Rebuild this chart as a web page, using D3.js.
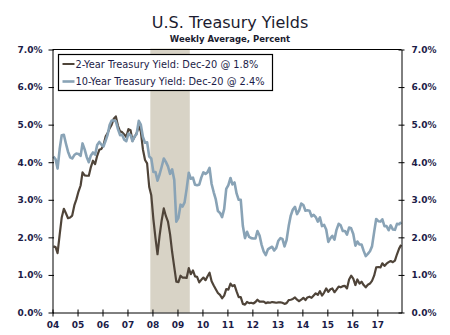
<!DOCTYPE html>
<html>
<head>
<meta charset="utf-8">
<script src="https://cdn.jsdelivr.net/npm/d3@7"></script>
<style>
  body { margin: 0; background: white; }
  text { font-family: "DejaVu Sans", Verdana, sans-serif; }
</style>
</head>
<body>
<div id="chart"></div>
<script>
// Monthly averages, Jan 2004 .. Dec 2017
let twoYear = [
  1.76, 1.74, 1.58, 2.07, 2.53, 2.76, 2.64, 2.51, 2.53, 2.58, 2.85, 3.01,
  3.22, 3.38, 3.73, 3.65, 3.64, 3.64, 3.87, 4.04, 3.95, 4.17, 4.33, 4.35,
  4.45, 4.68, 4.77, 4.90, 5.00, 5.16, 5.22, 4.97, 4.82, 4.80, 4.74, 4.67,
  4.88, 4.85, 4.57, 4.67, 4.77, 4.96, 4.82, 4.34, 4.06, 3.97, 3.34, 3.12,
  2.48, 1.97, 1.55, 2.05, 2.45, 2.77, 2.57, 2.42, 2.08, 1.61, 1.21, 0.82,
  0.81, 0.98, 0.93, 0.93, 0.92, 1.18, 1.02, 1.12, 0.96, 0.95, 0.80, 0.87,
  0.93, 0.86, 0.96, 1.06, 0.83, 0.72, 0.62, 0.52, 0.47, 0.38, 0.45, 0.62,
  0.61, 0.77, 0.70, 0.73, 0.56, 0.41, 0.41, 0.23, 0.21, 0.28, 0.25, 0.26,
  0.24, 0.28, 0.34, 0.29, 0.29, 0.29, 0.25, 0.27, 0.26, 0.28, 0.27, 0.26,
  0.27, 0.27, 0.26, 0.23, 0.25, 0.33, 0.34, 0.36, 0.40, 0.34, 0.30, 0.34,
  0.39, 0.33, 0.40, 0.42, 0.39, 0.45, 0.51, 0.47, 0.57, 0.45, 0.53, 0.64,
  0.55, 0.62, 0.64, 0.54, 0.61, 0.69, 0.67, 0.70, 0.71, 0.64, 0.88, 0.98,
  0.90, 0.73, 0.88, 0.77, 0.82, 0.73, 0.67, 0.74, 0.77, 0.84, 0.98, 1.20,
  1.21, 1.20, 1.31, 1.24, 1.30, 1.34, 1.37, 1.34, 1.38, 1.55, 1.70, 1.80
];
let tenYear = [
  4.15, 4.08, 3.83, 4.35, 4.72, 4.73, 4.50, 4.28, 4.13, 4.10, 4.19, 4.23,
  4.22, 4.17, 4.50, 4.34, 4.14, 4.00, 4.18, 4.26, 4.20, 4.46, 4.54, 4.47,
  4.42, 4.57, 4.72, 4.99, 5.11, 5.11, 5.09, 4.88, 4.72, 4.73, 4.60, 4.56,
  4.76, 4.72, 4.56, 4.69, 4.75, 5.10, 5.00, 4.67, 4.52, 4.53, 4.15, 4.10,
  3.74, 3.74, 3.51, 3.68, 3.88, 4.10, 4.01, 3.89, 3.69, 3.81, 3.53, 2.42,
  2.52, 2.87, 2.82, 2.93, 3.29, 3.72, 3.56, 3.59, 3.40, 3.39, 3.40, 3.59,
  3.73, 3.69, 3.73, 3.85, 3.42, 3.20, 3.01, 2.70, 2.65, 2.54, 2.76, 3.29,
  3.39, 3.58, 3.41, 3.46, 3.17, 3.00, 3.00, 2.30, 1.98, 2.15, 2.01, 1.98,
  1.97, 1.97, 2.17, 2.05, 1.80, 1.62, 1.53, 1.68, 1.72, 1.75, 1.65, 1.72,
  1.91, 1.98, 1.96, 1.76, 1.93, 2.30, 2.58, 2.74, 2.81, 2.62, 2.72, 2.90,
  2.86, 2.71, 2.72, 2.71, 2.56, 2.60, 2.54, 2.42, 2.53, 2.30, 2.33, 2.21,
  1.88, 1.98, 2.04, 1.94, 2.20, 2.36, 2.32, 2.17, 2.17, 2.07, 2.26, 2.24,
  2.09, 1.78, 1.89, 1.81, 1.81, 1.64, 1.50, 1.56, 1.63, 1.76, 2.14, 2.49,
  2.43, 2.42, 2.48, 2.30, 2.30, 2.19, 2.32, 2.21, 2.20, 2.36, 2.35, 2.40
];
let yTicks = [0, 1, 2, 3, 4, 5, 6, 7];
let yearTicks = ["04", "05", "06", "07", "08", "09", "10", "11", "12", "13", "14", "15", "16", "17"];
let recession = ["2007-12-01", "2009-06-30"];
let legendLabels = [
  "2-Year Treasury Yield: Dec-20 @ 1.8%",
  "10-Year Treasury Yield: Dec-20 @ 2.4%"
];

var margin = { top: 49.5, right: 48.5, bottom: 22.5, left: 52.5 };
let width = 450 - margin.left - margin.right;
let height = 335 - margin.top - margin.bottom;
let tickColor = "#1c1c48";
let colors = ["#4f4439", "#89a3b6"];

var svg = d3
  .select("#chart")
  .append("svg")
  .attr("width", 450)
  .attr("height", 335)
  .style("background-color", "white");

let months = d3.timeMonth.range(new Date(2004, 0, 1), new Date(2018, 0, 1)).map((d) => new Date(d.getFullYear(), d.getMonth(), 15));
let series = [twoYear, tenYear].map((vals) => vals.map((v, i) => ({ date: months[i], value: v })));

let x = d3.scaleTime().domain([new Date(2004, 0, 1), new Date(2017, 11, 20)]).range([0, width]);
let y = d3.scaleLinear().domain([0, 7]).range([height, 0]);

let g = svg.append("g").attr("transform", "translate(" + margin.left + "," + margin.top + ")");

// Recession shading
let parse = d3.timeParse("%Y-%m-%d");
g.append("rect")
  .attr("x", x(parse(recession[0])))
  .attr("y", -1)
  .attr("width", x(parse(recession[1])) - x(parse(recession[0])))
  .attr("height", height + 1)
  .attr("fill", "#d8d3c6");

// Lines
let line = d3.line().x((d) => x(d.date)).y((d) => y(d.value));
g.append("path").datum(series[0]).attr("d", line)
  .attr("fill", "none").attr("stroke", colors[0]).attr("stroke-width", 2.2).attr("stroke-linejoin", "round");
g.append("path").datum(series[1]).attr("d", line)
  .attr("fill", "none").attr("stroke", colors[1]).attr("stroke-width", 2.6).attr("stroke-linejoin", "round");

// Top border
g.append("line").attr("x1", 0).attr("x2", width).attr("y1", 0).attr("y2", 0).attr("stroke", "black");

let fmt = (d) => d.toFixed(1) + "%";
let yearDates = yearTicks.map((t) => new Date(2000 + +t, 0, 1));

// Left axis
let left = g.append("g").call(d3.axisLeft(y).tickValues(yTicks).tickFormat(fmt).tickSizeInner(4).tickSizeOuter(0).tickPadding(6));
left.selectAll(".tick line").attr("x2", -4).attr("x1", 1.5);
// Right axis
let right = g.append("g").attr("transform", "translate(" + width + ",0)")
  .call(d3.axisRight(y).tickValues(yTicks).tickFormat(fmt).tickSizeInner(3).tickSizeOuter(0).tickPadding(7));
right.selectAll(".tick line").attr("x1", -3).attr("x2", 3);
// Bottom axis
let bottom = g.append("g").attr("transform", "translate(0," + height + ")")
  .call(d3.axisBottom(x).tickValues(yearDates).tickFormat((d, i) => yearTicks[i]).tickSizeInner(4).tickSizeOuter(0).tickPadding(5));
bottom.selectAll(".tick line").attr("y1", -3).attr("y2", 4);

[left, right, bottom].forEach((a) => {
  a.select(".domain").attr("stroke", "black");
  a.selectAll(".tick line").attr("stroke", "black");
  a.selectAll("text").attr("fill", tickColor).style("font-size", "9px").style("font-weight", "bold")
    .style("font-family", "'DejaVu Sans', Verdana, sans-serif");
});

// Legend
let legend = g.append("g").attr("transform", "translate(6,5)");
legend.append("rect").attr("width", 214).attr("height", 36)
  .attr("fill", "white").attr("stroke", "black").attr("stroke-width", 1.2);
legendLabels.forEach((lab, i) => {
  let ly = 9.5 + i * 17.5;
  legend.append("line").attr("x1", 4).attr("x2", 16).attr("y1", ly).attr("y2", ly)
    .attr("stroke", colors[i]).attr("stroke-width", i == 0 ? 2 : 2.6);
  legend.append("text").attr("x", 17).attr("y", ly + 3.5).text(lab)
    .attr("fill", tickColor).style("font-size", "9.8px");
});

// Titles
svg.append("text").attr("x", 230).attr("y", 28).attr("text-anchor", "middle")
  .text("U.S. Treasury Yields").attr("fill", "#1c1c30").style("font-size", "16px");
svg.append("text").attr("x", 230).attr("y", 41.5).attr("text-anchor", "middle")
  .text("Weekly Average, Percent").attr("fill", "#1c1c30").style("font-size", "8.5px").style("font-weight", "bold");
</script>
</body>
</html>
